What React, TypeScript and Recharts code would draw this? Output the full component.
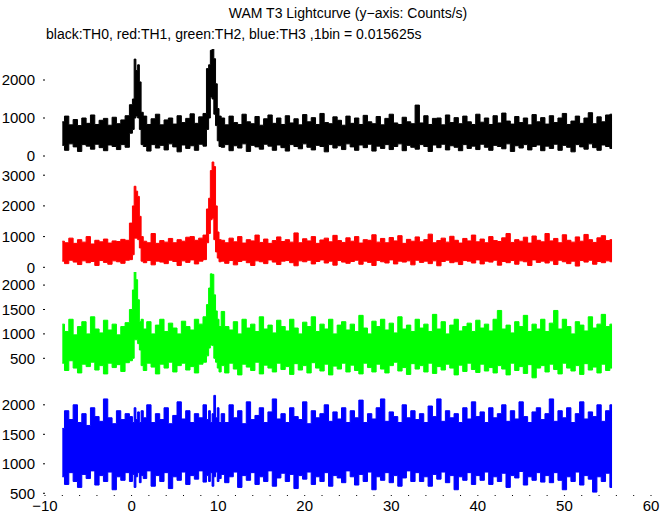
import React from "react";
import { AreaChart, Area, XAxis, YAxis } from "recharts";

// time of each bin (s); coarse outside the two bursts, finer inside them
const times = [
  -8, -7.5, -7, -6.5, -6, -5.5, -5, -4.5, -4, -3.5, -3, -2.5, -2, -1.5, -1, -0.5,
  0, 0.2, 0.4, 0.6, 0.8, 1.0, 1.2,
  1.5, 2, 2.5, 3, 3.5, 4, 4.5, 5, 5.5, 6, 6.5, 7, 7.5, 8, 8.5,
  8.8, 9.0, 9.2, 9.4, 9.6, 9.8, 10.0, 10.2,
  10.5, 11, 11.5, 12, 12.5, 13, 13.5, 14, 14.5, 15, 15.5, 16, 16.5, 17, 17.5,
  18, 18.5, 19, 19.5, 20, 20.5, 21, 21.5, 22, 22.5, 23, 23.5, 24, 24.5, 25,
  25.5, 26, 26.5, 27, 27.5, 28, 28.5, 29, 29.5, 30, 30.5, 31, 31.5, 32, 32.5,
  33, 33.5, 34, 34.5, 35, 35.5, 36, 36.5, 37, 37.5, 38, 38.5, 39, 39.5, 40,
  40.5, 41, 41.5, 42, 42.5, 43, 43.5, 44, 44.5, 45, 45.5, 46, 46.5, 47, 47.5,
  48, 48.5, 49, 49.5, 50, 50.5, 51, 51.5, 52, 52.5, 53, 53.5, 54, 54.5, 55,
  55.5,
];

// upper / lower envelope of each light curve (counts/s)
const th0Hi = [
  900, 1050, 820, 960, 800, 1000, 860, 1080, 830, 940, 990, 810, 1020, 850, 950, 1060,
  1350, 1500, 2550, 2250, 2400, 1950, 1150,
  1050, 830, 980, 1100, 820, 950, 1000, 840, 1060, 880, 990, 1110, 860, 1030, 1120,
  2300, 2400, 2780, 2840, 2560, 1900, 1250, 1050,
  1000, 820, 1050, 880, 830, 1100, 900, 850, 1040, 810, 980, 1080, 860, 1000, 830,
  1060, 870, 980, 820, 1090, 900, 1010, 830, 1120, 880, 850, 1030, 940, 810, 1050,
  860, 1000, 830, 1070, 900, 850, 1040, 820, 990, 1100, 870, 830, 1020, 900, 850,
  1340, 870, 1060, 830, 990, 1000, 820, 1080, 880, 1010, 850, 1050, 900, 830, 1100,
  890, 1000, 830, 1060, 870, 1130, 920, 840, 1040, 880, 1000, 820, 1090, 900, 1010,
  840, 1060, 880, 1000, 1120, 830, 920, 1050, 860, 1000, 1140, 850, 1030, 900, 1080,
  1100,
];
const th0Lo = [
  280, 150, 320, 240, 120, 300, 260, 180, 310, 220, 140, 290, 250, 170, 300, 230,
  600, 700, 1000, 1050, 1000, 700, 300,
  250, 130, 300, 210, 280, 160, 320, 240, 110, 290, 200, 270, 150, 310, 260,
  700, 1000, 1550, 1500, 1100, 800, 400, 250,
  230, 300, 140, 270, 210, 320, 120, 280, 240, 180, 310, 260, 150, 290, 220,
  130, 300, 250, 190, 320, 230, 160, 280, 250, 110, 300, 210, 270, 170, 320,
  240, 150, 290, 220, 310, 130, 260, 200, 300, 170, 250, 320, 140, 280, 230,
  180, 300, 250, 120, 290, 220, 310, 160, 270, 230, 140, 300, 200, 260, 170,
  310, 230, 150, 280, 250, 190, 320, 120, 270, 210, 300, 160, 250, 290, 140,
  260, 200, 310, 150, 280, 230, 110, 300, 240, 180, 320, 220, 150, 290, 250,
  200,
];

const th1Hi = [
  850, 800, 950, 780, 900, 820, 1000, 760, 880, 830, 920, 790, 860, 840, 910, 880,
  1440, 2000, 2640, 2480, 2310, 1660, 1000,
  850, 800, 1100, 780, 870, 820, 940, 800, 900, 850, 980, 1000, 880, 950, 1050,
  1900, 2250, 3150, 3430, 3280, 2000, 1150, 900,
  880, 800, 950, 830, 1000, 790, 900, 860, 1050, 810, 920, 780, 870, 990, 840,
  900, 820, 1120, 800, 930, 860, 1000, 780, 890, 950, 830, 1040, 870, 810, 960,
  850, 1000, 790, 900, 880, 1060, 820, 940, 800, 970, 860, 1030, 780, 910, 850,
  990, 830, 900, 1080, 800, 870, 950, 820, 1010, 880, 790, 940, 860, 1050, 830,
  920, 800, 1000, 870, 840, 960, 1100, 810, 900, 850, 980, 790, 1020, 880, 830,
  1100, 860, 940, 800, 1060, 880, 820, 990, 850, 1070, 900, 810, 960, 1030, 870,
  900,
];
const th1Lo = [
  200, 120, 230, 170, 90, 210, 150, 190, 60, 220, 160, 100, 210, 180, 130, 230,
  250, 410, 950, 950, 900, 630, 200,
  150, 220, 80, 200, 170, 120, 230, 190, 60, 210, 160, 240, 110, 200, 250,
  800, 1100, 1550, 1600, 900, 500, 300, 180,
  200, 130, 220, 80, 190, 230, 150, 60, 210, 180, 120, 240, 170, 90, 200,
  220, 150, 50, 210, 180, 230, 110, 190, 240, 140, 200, 70, 220, 170, 130,
  190, 230, 100, 200, 160, 60, 220, 180, 140, 240, 110, 200, 170, 210, 80,
  230, 160, 200, 120, 210, 50, 190, 230, 150, 180, 90, 220, 200, 140, 240,
  110, 200, 170, 230, 70, 190, 150, 220, 100, 210, 180, 60, 240, 160, 200,
  140, 210, 90, 230, 180, 120, 200, 40, 220, 170, 230, 100, 190, 150, 210,
  180,
];

const th2Hi = [
  1200, 1050, 1300, 980, 1150, 1250, 1000, 1350, 1100, 1020, 1280, 1080, 1200, 980, 1150, 1230,
  1500, 1900, 2280, 2110, 1700, 1250, 1300,
  1100, 1250, 1000, 1180, 1300, 1050, 1220, 1120, 1000, 1260, 1150, 1080, 1300, 1200, 1350,
  1600, 1940, 2230, 2220, 1800, 1470, 1300, 1150,
  1460, 1150, 1080, 1250, 1000, 1300, 1120, 1200, 1050, 1350, 1100, 1180, 1020, 1280, 1150,
  1060, 1300, 1120, 1000, 1240, 1150, 1350, 1050, 1200, 1100, 1300, 1000, 1180, 1250, 1080,
  1200, 1050, 1380, 1120, 1000, 1260, 1150, 1300, 1080, 1220, 1020, 1350, 1100, 1180, 1050,
  1300, 1120, 1200, 1050, 1400, 1100, 1250, 1000, 1180, 1300, 1060, 1150, 1220, 1050, 1280,
  1120, 1200, 1060, 1300, 1480, 1100, 1180, 1020, 1250, 1150, 1380, 1050, 1200, 1100, 1300,
  1050, 1220, 1480, 1100, 1300, 1150, 1000, 1250, 1180, 1060, 1350, 1120, 1200, 1400, 1150,
  1200,
];
const th2Lo = [
  400, 250, 450, 300, 200, 380, 330, 420, 260, 350, 180, 400, 310, 370, 230, 410,
  450, 500, 880, 880, 800, 670, 350,
  250, 400, 320, 180, 380, 300, 420, 220, 350, 400, 260, 330, 200, 380, 420,
  550, 710, 770, 760, 500, 420, 300, 220,
  350, 200, 400, 280, 160, 380, 320, 250, 420, 180, 360, 300, 220, 400, 270,
  330, 170, 390, 260, 350, 200, 410, 300, 240, 380, 160, 340, 280, 400, 220,
  360, 250, 180, 400, 310, 220, 380, 280, 200, 350, 420, 240, 310, 170, 390,
  280, 350, 220, 400, 190, 330, 260, 380, 300, 160, 360, 230, 400, 270, 210,
  380, 240, 310, 200, 350, 280, 160, 400, 250, 330, 190, 370, 100, 300, 350,
  220, 380, 270, 180, 400, 300, 240, 350, 170, 390, 260, 320, 200, 380, 250,
  300,
];

const th3Hi = [
  1600, 1900, 1750, 2000, 1700, 1850, 1650, 1950, 1800, 1720, 2100, 1780, 1680, 1900, 1750, 1850,
  1800, 1700, 1950, 1750, 1880, 1700, 1900,
  1780, 2000, 1700, 1850, 1750, 1950, 1680, 1820, 2050, 1760, 1900, 1700, 1850, 1780, 2000,
  1750, 1900, 1700, 1850, 2160, 1780, 1950, 1700,
  1850, 1700, 2000, 1780, 1900, 1680, 2050, 1750, 1820, 1950, 1700, 1880, 2100, 1760, 1850,
  1700, 1950, 1800, 1750, 2050, 1680, 1900, 1780, 1850, 2000, 1720, 1880, 1760, 1950, 1700,
  1900, 1780, 2080, 1700, 1850, 1760, 1950, 2100, 1720, 1880, 1800, 1700, 2000, 1780, 1900,
  1750, 1850, 1700, 1980, 1800, 2100, 1720, 1900, 1780, 1850, 1700, 1950, 1760, 2050, 1800,
  1880, 1700, 1950, 1780, 1850, 2000, 1720, 1900, 1760, 2050, 1800, 1700, 1880, 1950, 1750,
  1850, 2100, 1720, 1900, 1780, 1950, 1700, 1850, 2050, 1760, 1880, 1800, 2000, 1720, 1900,
  2000,
];
const th3Lo = [
  780, 650, 850, 700, 600, 820, 750, 880, 640, 800, 700, 860, 560, 780, 720, 850,
  700, 820, 600, 780, 850, 680, 800,
  750, 880, 620, 800, 700, 850, 580, 780, 720, 860, 650, 800, 740, 880, 690,
  800, 700, 850, 620, 780, 860, 700, 750,
  820, 680, 780, 860, 600, 800, 720, 850, 650, 780, 700, 880, 620, 760, 840,
  700, 820, 580, 800, 740, 860, 650, 780, 700, 850, 620, 800, 760, 680, 880,
  780, 640, 820, 700, 860, 560, 780, 720, 850, 680, 800, 620, 760, 880, 700,
  850, 700, 780, 620, 820, 740, 860, 680, 800, 560, 780, 720, 850, 650, 800,
  720, 860, 650, 780, 700, 840, 600, 800, 760, 870, 640, 780, 720, 850, 690,
  800, 680, 850, 720, 560, 780, 700, 860, 640, 800, 740, 520, 780, 700, 840,
  600,
];

const xTicks = [
  -10, -8, -6, -4, -2, 0, 2, 4, 6, 8, 10, 12, 14, 16, 18, 20, 22, 24, 26, 28, 30,
  32, 34, 36, 38, 40, 42, 44, 46, 48, 50, 52, 54, 56, 58, 60,
];

const data = times.map((t, i) => ({
  t,
  th0: [th0Lo[i], th0Hi[i]],
  th1: [th1Lo[i], th1Hi[i]],
  th2: [th2Lo[i], th2Hi[i]],
  th3: [th3Lo[i], th3Hi[i]],
}));

const W = 672;
const H = 515;
const FONT = "'Liberation Sans', Arial, Helvetica, sans-serif";

function Panel({
  dataKey,
  color,
  top,
  bottom,
  domain,
  ticks,
  labels,
}: {
  dataKey: string;
  color: string;
  top: number;
  bottom: number;
  domain: [number, number];
  ticks: number[];
  labels?: boolean;
}) {
  const axisH = labels ? 20 : 0;
  return (
    <div style={{ position: "absolute", left: 0, top: 0 }}>
      <AreaChart
        width={W}
        height={H}
        data={data}
        margin={{ top, right: 21, bottom: H - bottom - axisH, left: 0 }}
      >
        <XAxis
          dataKey="t"
          type="number"
          domain={[-10, 60]}
          ticks={xTicks}
          interval={0}
          allowDataOverflow
          axisLine={false}
          tickLine={{ stroke: "#000" }}
          tickSize={1}
          tickMargin={4}
          height={axisH}
          tick={{ fontSize: 15, fill: "#000", fontFamily: FONT }}
          tickFormatter={(v: number) =>
            labels && v % 10 === 0 ? String(v).replace("-", "\u2212") : ""
          }
        />
        <XAxis
          xAxisId="top"
          orientation="top"
          dataKey="t"
          type="number"
          domain={[-10, 60]}
          ticks={xTicks}
          interval={0}
          allowDataOverflow
          axisLine={false}
          tickLine={{ stroke: "#000" }}
          tickSize={1}
          height={0}
          tickFormatter={() => ""}
        />
        <YAxis
          type="number"
          domain={domain}
          ticks={ticks}
          interval={0}
          allowDataOverflow
          width={45}
          axisLine={false}
          tickLine={{ stroke: "#000" }}
          tickSize={2}
          tickMargin={8}
          tick={{ fontSize: 15, fill: "#000", fontFamily: FONT }}
        />
        <Area
          dataKey={dataKey}
          type="step"
          stroke={color}
          strokeWidth={1}
          fill={color}
          fillOpacity={1}
          dot={false}
          activeDot={false}
          isAnimationActive={false}
        />
      </AreaChart>
    </div>
  );
}

export default function App() {
  return (
    <div
      style={{
        position: "absolute",
        left: 0,
        top: 0,
        width: W,
        height: H,
        background: "#fff",
        fontFamily: FONT,
        color: "#000",
      }}
    >
      <div
        style={{
          position: "absolute",
          left: 45,
          width: 606,
          top: 5,
          textAlign: "center",
          fontSize: 14,
        }}
      >
        WAM T3 Lightcurve (y{"\u2212"}axis: Counts/s)
      </div>
      <div style={{ position: "absolute", left: 46, top: 26, fontSize: 14 }}>
        black:TH0, red:TH1, green:TH2, blue:TH3 ,1bin = 0.015625s
      </div>
      <Panel dataKey="th0" color="#000000" top={49} bottom={160} domain={[-105, 2816]} ticks={[0, 1000, 2000]} />
      <Panel dataKey="th1" color="#ff0000" top={160} bottom={272} domain={[-153, 3495]} ticks={[0, 1000, 2000, 3000]} />
      <Panel dataKey="th2" color="#00ff00" top={272} bottom={383} domain={[-6, 2268]} ticks={[500, 1000, 1500, 2000]} />
      <Panel dataKey="th3" color="#0000ff" top={383} bottom={495} domain={[471, 2370]} ticks={[500, 1000, 1500, 2000]} labels />
    </div>
  );
}
